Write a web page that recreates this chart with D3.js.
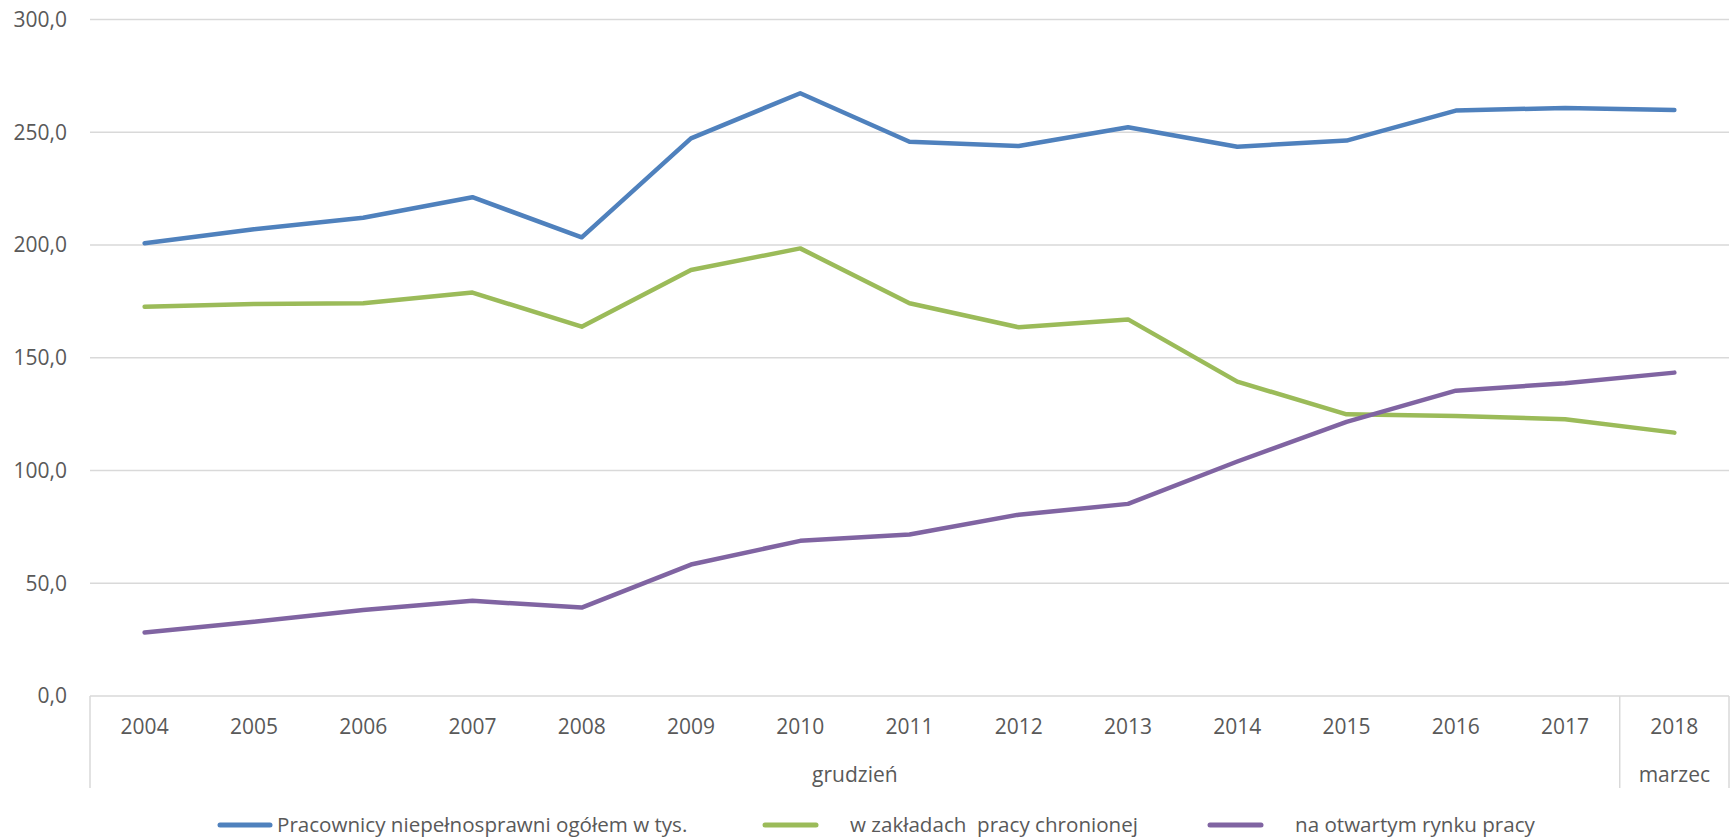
<!DOCTYPE html>
<html><head><meta charset="utf-8">
<script src="https://cdn.jsdelivr.net/npm/d3@7"></script>
<style>
html,body{margin:0;padding:0;background:#fff;}
svg{display:block;}
text{font-family:"Open Sans",sans-serif;fill:#595959;}
</style></head>
<body>
<svg id="chart" width="1731" height="838"></svg>
<script>
const years = ["2004","2005","2006","2007","2008","2009","2010","2011","2012","2013","2014","2015","2016","2017","2018"];
const groupLabels = [{label:"grudzień", from:"2004", to:"2017"},{label:"marzec", from:"2018", to:"2018"}];
const totalValues = [200.8, 207.0, 212.1, 221.2, 203.4, 247.3, 267.3, 245.8, 243.9, 252.2, 243.6, 246.3, 259.6, 260.8, 259.9];
const shelteredValues = [172.6, 173.8, 174.2, 178.9, 163.8, 188.9, 198.5, 174.2, 163.5, 167.0, 139.4, 124.9, 124.2, 122.7, 116.8];
const openMarketValues = [28.2, 32.9, 38.1, 42.2, 39.2, 58.3, 68.8, 71.6, 80.4, 85.2, 104.0, 121.6, 135.4, 138.7, 143.4];
const yTicks = [0, 50, 100, 150, 200, 250, 300];
const seriesNames = ["Pracownicy niepełnosprawni ogółem w tys.", "w zakładach  pracy chronionej", "na otwartym rynku pracy"];
const seriesColors = ["#4F81BD", "#9BBB59", "#8064A2"];

(function(){
const svg = d3.select("#chart");
const pLeft = 90, pRight = 1729, pTop = 19.5, pBottom = 696;
const x = d3.scaleBand().domain(years).range([pLeft, pRight]).padding(0);
const y = d3.scaleLinear().domain([0, 300]).range([pBottom, pTop]);
const fmt = d3.formatLocale({decimal:",", thousands:" ", grouping:[3], currency:["",""]}).format(".1f");

svg.append("g").selectAll("line").data(yTicks.filter(d => d > 0)).join("line")
  .attr("x1", pLeft).attr("x2", pRight)
  .attr("y1", d => y(d)).attr("y2", d => y(d))
  .attr("stroke", "#D9D9D9").attr("stroke-width", 1.5);

svg.append("g").selectAll("text").data(yTicks).join("text")
  .attr("x", 67).attr("y", d => y(d)).attr("dy", "0.35em")
  .attr("text-anchor", "end").style("font-size", "21px")
  .text(d => fmt(d));

const axis = svg.append("g").attr("stroke", "#D9D9D9").attr("stroke-width", 1.5);
axis.append("line").attr("x1", pLeft).attr("x2", pRight).attr("y1", pBottom).attr("y2", pBottom);
const boundaries = [pLeft, x("2018"), pRight];
axis.selectAll("line.v").data(boundaries).join("line").attr("class","v")
  .attr("x1", d => d).attr("x2", d => d).attr("y1", pBottom).attr("y2", 788);

svg.append("g").selectAll("text").data(years).join("text")
  .attr("x", d => x(d) + x.bandwidth()/2).attr("y", 734)
  .attr("text-anchor", "middle").style("font-size", "21px").text(d => d);

svg.append("g").selectAll("text").data(groupLabels).join("text")
  .attr("x", d => (x(d.from) + x(d.to) + x.bandwidth())/2).attr("y", 782)
  .attr("text-anchor", "middle").style("font-size", "21px").text(d => d.label);

const line = d3.line().x((d,i) => x(years[i]) + x.bandwidth()/2).y(d => y(d));
const allSeries = [totalValues, shelteredValues, openMarketValues];
svg.append("g").selectAll("path").data(allSeries).join("path")
  .attr("d", d => line(d)).attr("fill", "none")
  .attr("stroke", (d,i) => seriesColors[i]).attr("stroke-width", 4.5)
  .attr("stroke-linejoin", "round").attr("stroke-linecap", "round");

const legendItems = [
  {sx: 220, ex: 270, tx: 277},
  {sx: 765, ex: 816, tx: 850},
  {sx: 1210, ex: 1261, tx: 1295}
];
const lg = svg.append("g");
legendItems.forEach((it, i) => {
  lg.append("line").attr("x1", it.sx).attr("x2", it.ex).attr("y1", 825).attr("y2", 825)
    .attr("stroke", seriesColors[i]).attr("stroke-width", 5).attr("stroke-linecap", "round");
  lg.append("text").attr("x", it.tx).attr("y", 832)
    .attr("xml:space", "preserve").style("white-space", "pre")
    .style("font-size", "20.6px").style("font-family", "'Liberation Sans Narrow','Open Sans',sans-serif")
    .text(seriesNames[i]);
});
})();
</script>
</body></html>
